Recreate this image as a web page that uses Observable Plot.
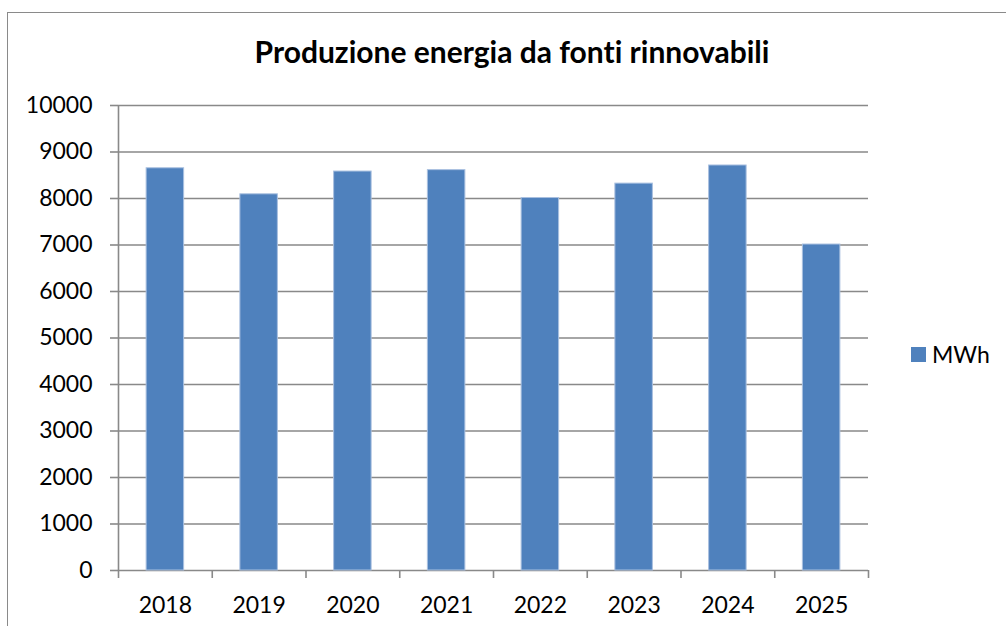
<!DOCTYPE html>
<html>
<head>
<meta charset="utf-8">
<script src="https://cdn.jsdelivr.net/npm/d3@7"></script>
<script src="https://cdn.jsdelivr.net/npm/@observablehq/plot@0.6"></script>
<style>
  html, body { margin: 0; padding: 0; background: #fff; }
  body { width: 1006px; height: 626px; overflow: hidden; position: relative; font-family: Lato, "Open Sans", sans-serif; font-variant-ligatures: none; }
  #frame { position: absolute; left: 7px; top: 12px; width: 1010px; height: 630px; border-left: 1.5px solid #8a8a8a; border-top: 1.5px solid #8a8a8a; box-sizing: border-box; }
  #title { position: absolute; left: 0; top: 0; width: 1006px; height: 80px; text-align: center; padding-left: 18px; box-sizing: border-box; font-weight: 700; font-size: 30px; line-height: 30px; padding-top: 36px; color: #000; font-variant-ligatures: none; }
  #chart { position: absolute; left: 0; top: 80px; }
  #chart svg text { font-variant-ligatures: none; }
  #legend { position: absolute; left: 911px; top: 340px; display: flex; align-items: center; font-size: 23px; color: #000; }
  #legend .sw { width: 15px; height: 15px; background: #4F81BD; margin-right: 6px; }
</style>
</head>
<body>
<div id="frame"></div>
<div id="title">Produzione energia da fonti rinnovabili</div>
<div id="chart"></div>
<div id="legend"><span class="sw"></span><span id="legend-label"></span></div>
<script>
const years = ["2018", "2019", "2020", "2021", "2022", "2023", "2024", "2025"];
const mwh = [8650, 8090, 8580, 8610, 8010, 8320, 8710, 7010];
const yTicks = [0, 1000, 2000, 3000, 4000, 5000, 6000, 7000, 8000, 9000, 10000];
const seriesName = "MWh";

document.getElementById("legend-label").textContent = seriesName;

const data = years.map((y, i) => ({year: y, value: mwh[i]}));

const W = 1006, H = 546;
const mL = 118, mR = 138, mT = 25, mB = 56;
const step = (W - mL - mR) / years.length;
const gridColor = "#898989";

const chart = Plot.plot({
  width: W,
  height: H,
  marginLeft: mL,
  marginRight: mR,
  marginTop: mT,
  marginBottom: mB,
  style: {fontFamily: "Lato, 'Open Sans', sans-serif", fontSize: "23px", color: "#000", background: "transparent"},
  x: {domain: years, paddingInner: 0.6, paddingOuter: 0.3, round: false, label: null},
  y: {domain: [0, 10000], ticks: yTicks, label: null},
  marks: [
    Plot.gridY(yTicks, {stroke: gridColor, strokeOpacity: 1, strokeWidth: 1.6}),
    Plot.barY(data, {x: "year", y: "value", fill: "#4F81BD", stroke: "#a9c0e0", strokeWidth: 1}),
    Plot.ruleX([years[0]], {dx: -step / 2, stroke: gridColor, strokeWidth: 1.6}),
    Plot.axisY(yTicks, {tickSize: 8, tickPadding: 18, stroke: gridColor, strokeWidth: 1.6, fill: "#000", fontSize: 23, tickFormat: d => String(d), label: null}),
    Plot.axisX(years, {tickSize: 8, dx: -step / 2, text: null, stroke: gridColor, strokeWidth: 1.6, label: null}),
    Plot.axisX([years[years.length - 1]], {tickSize: 8, dx: step / 2, text: null, stroke: gridColor, strokeWidth: 1.6, label: null}),
    Plot.axisX(years, {tickSize: 0, tickPadding: 26, fill: "#000", fontSize: 23, label: null})
  ]
});
document.getElementById("chart").appendChild(chart);
</script>
</body>
</html>
